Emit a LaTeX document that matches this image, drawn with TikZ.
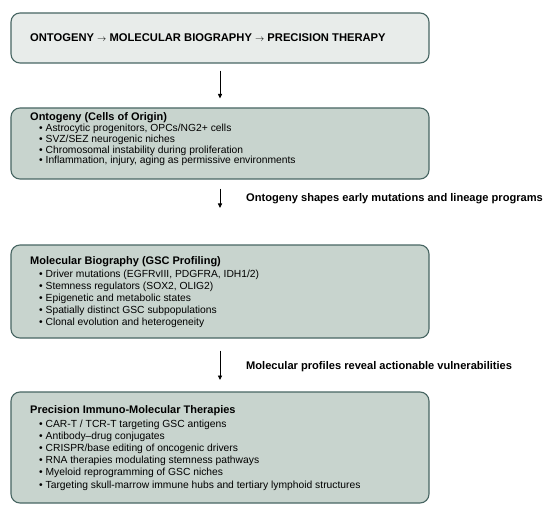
\documentclass[tikz,border=0pt]{standalone}
\usepackage{fontspec}
\setmainfont{Liberation Sans}
\usetikzlibrary{arrows.meta}
\definecolor{boxline}{RGB}{72,102,99}
\definecolor{boxfill}{RGB}{200,212,206}
\definecolor{topfill}{RGB}{232,236,234}
\begin{document}
\begin{tikzpicture}[x=1bp,y=-1bp,
  box/.style={draw=boxline, line width=1.1bp, rounded corners=9bp, fill=boxfill, minimum width=418bp, inner sep=0pt},
  topbox/.style={box, fill=topfill},
  hdr/.style={anchor=base west, inner sep=0pt, font=\fontsize{11bp}{12bp}\selectfont\bfseries},
  item/.style={anchor=base west, inner sep=0pt, font=\fontsize{10.3bp}{12bp}\selectfont},
  lbl/.style={anchor=base west, inner sep=0pt, font=\fontsize{11.1bp}{12bp}\selectfont\bfseries},
  arr/.style={-{Triangle[length=4.5bp,width=4bp]}, line width=0.9bp, black}]
\useasboundingbox (0,0) rectangle (550,515);
\fill[white] (0,0) rectangle (550,515);
% boxes
\node[topbox, minimum height=50bp] (b1) at (220,38) {};
\node[box, minimum height=71bp] (b2) at (220,143.5) {};
\node[box, minimum height=93bp] (b3) at (220,291.5) {};
\node[box, minimum height=111bp] (b4) at (220,447.5) {};
% title
\node[anchor=base west, inner sep=0pt, font=\fontsize{11.2bp}{12bp}\selectfont\bfseries] (t1) at (30,41.6) {ONTOGENY {\fontsize{9bp}{10bp}\selectfont$\rightarrow$} MOLECULAR BIOGRAPHY {\fontsize{9bp}{10bp}\selectfont$\rightarrow$} PRECISION THERAPY};
% box 2
\node[hdr] (h2) at (30,121) {Ontogeny (Cells of Origin)};
\foreach \t [count=\i] in {{Astrocytic progenitors, OPCs/NG2+ cells},{SVZ/SEZ neurogenic niches},{Chromosomal instability during proliferation},{Inflammation, injury, aging as permissive environments}}
  \node[item] (o\i) at (39,131.5+10.8*\i-10.8) {\textbullet\ \t};
% box 3
\node[hdr] (h3) at (30,264.5) {Molecular Biography (GSC Profiling)};
\foreach \t [count=\i] in {{Driver mutations (EGFRvIII, PDGFRA, IDH1/2)},{Stemness regulators (SOX2, OLIG2)},{Epigenetic and metabolic states},{Spatially distinct GSC subpopulations},{Clonal evolution and heterogeneity}}
  \node[item] (m\i) at (39,277+12.2*\i-12.2) {\textbullet\ \t};
% box 4
\node[hdr] (h4) at (30,413.8) {Precision Immuno-Molecular Therapies};
\foreach \t [count=\i] in {{CAR-T / TCR-T targeting GSC antigens},{Antibody–drug conjugates},{CRISPR/base editing of oncogenic drivers},{RNA therapies modulating stemness pathways},{Myeloid reprogramming of GSC niches},{Targeting skull-marrow immune hubs and tertiary lymphoid structures}}
  \node[item] (p\i) at (39,427+12.2*\i-12.2) {\textbullet\ \t};
% arrows
\coordinate (e2) at (220,208);
\coordinate (e3) at (220,380);
\draw[arr, shorten <=7bp, shorten >=9bp] (b1) -- (b2);
\draw[arr, shorten <=9bp] (b2.south) -- (e2);
\draw[arr, shorten <=12bp] (b3.south) -- (e3);
\node[lbl] (l2) at (246,202) {Ontogeny shapes early mutations and lineage programs};
\node[lbl] (l3) at (246,369) {Molecular profiles reveal actionable vulnerabilities};
\end{tikzpicture}
\end{document}
